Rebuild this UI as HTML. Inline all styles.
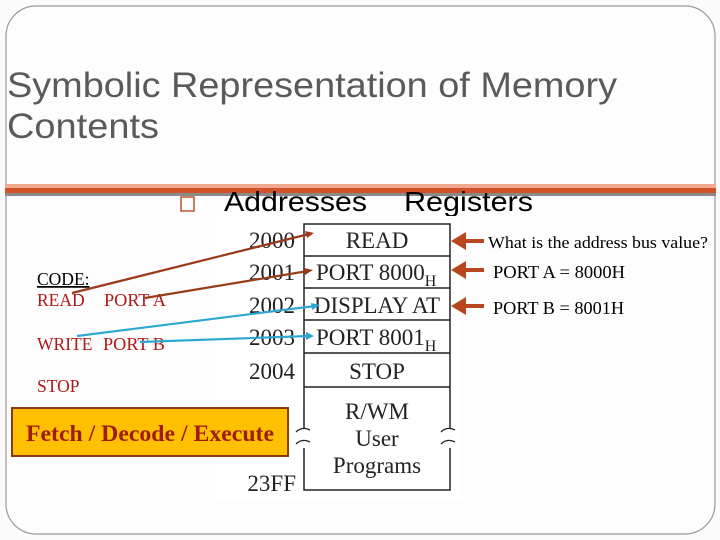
<!DOCTYPE html>
<html><head><meta charset="utf-8"><style>
html,body{margin:0;padding:0;background:#fff}
svg{display:block}
</style></head><body>
<svg width="720" height="540" xmlns="http://www.w3.org/2000/svg">
<rect width="720" height="540" fill="#fbfbfb"/>
<rect x="6" y="6" width="709" height="528" rx="30" fill="#fdfdfd" stroke="#9a9a9a" stroke-width="1.2"/>
<text x="7" y="97" font-family="Liberation Sans, sans-serif" font-size="35" fill="#5a5a5a" textLength="610" lengthAdjust="spacingAndGlyphs">Symbolic Representation of Memory</text>
<text x="7" y="138" font-family="Liberation Sans, sans-serif" font-size="35" fill="#5a5a5a" textLength="152" lengthAdjust="spacingAndGlyphs">Contents</text>
<rect x="5" y="184" width="711" height="4" fill="#f0a890"/>
<rect x="5" y="188" width="711" height="5" fill="#d2522a"/>
<rect x="5" y="193" width="711" height="3" fill="#8a8a8a"/>
<rect x="181" y="197" width="13" height="14" fill="none" stroke="#b8562a" stroke-width="1.5"/>
<text x="224" y="211" font-family="Liberation Sans, sans-serif" font-size="28" fill="#000" textLength="143" lengthAdjust="spacingAndGlyphs">Addresses</text>
<text x="404" y="211" font-family="Liberation Sans, sans-serif" font-size="28" fill="#000" textLength="129" lengthAdjust="spacingAndGlyphs">Registers</text>
<rect x="216" y="216" width="246" height="284" fill="#fff"/>
<g font-family="Liberation Serif, serif" fill="#222">
<g font-size="23" text-anchor="end">
<text x="295" y="248">2000</text><text x="295" y="280">2001</text><text x="295" y="313">2002</text><text x="295" y="345">2003</text><text x="295" y="379">2004</text><text x="296" y="491">23FF</text>
</g>
<g fill="none" stroke="#222" stroke-width="1.5">
<rect x="304" y="224" width="146" height="266"/>
<line x1="304" y1="256" x2="450" y2="256"/><line x1="304" y1="288" x2="450" y2="288"/><line x1="304" y1="320" x2="450" y2="320"/><line x1="304" y1="353" x2="450" y2="353"/><line x1="304" y1="387" x2="450" y2="387"/>
</g>
<rect x="298" y="428" width="14" height="20" fill="#fff"/><rect x="442" y="428" width="14" height="20" fill="#fff"/>
<path d="M296,432 q6,-6 14,-2 M296,444 q6,-6 14,-2 M441,432 q6,-6 14,-2 M441,444 q6,-6 14,-2" fill="none" stroke="#222" stroke-width="1.3"/>
<g font-size="23">
<text x="377" y="248" text-anchor="middle">READ</text>
<text x="316" y="280">PORT 8000<tspan font-size="16" dy="6">H</tspan></text>
<text x="377" y="313" text-anchor="middle" textLength="126" lengthAdjust="spacingAndGlyphs">DISPLAY AT</text>
<text x="316" y="345">PORT 8001<tspan font-size="16" dy="6">H</tspan></text>
<text x="377" y="379" text-anchor="middle">STOP</text>
<text x="377" y="419" text-anchor="middle">R/WM</text>
<text x="377" y="446" text-anchor="middle">User</text>
<text x="377" y="473" text-anchor="middle">Programs</text>
</g>
</g>
<g font-family="Liberation Serif, serif" font-size="17.5">
<text x="37" y="285" fill="#000" text-decoration="underline">CODE:</text>
<text x="37" y="306" fill="#b01818">READ</text><text x="104" y="306" fill="#b01818" textLength="62" lengthAdjust="spacingAndGlyphs">PORT A</text>
<text x="37" y="350" fill="#b01818">WRITE</text><text x="103" y="350" fill="#b01818" textLength="62" lengthAdjust="spacingAndGlyphs">PORT B</text>
<text x="37" y="392" fill="#b01818">STOP</text>
<text x="488" y="248" fill="#000" font-size="17" textLength="220" lengthAdjust="spacingAndGlyphs">What is the address bus value?</text>
<text x="493" y="278" fill="#000" font-size="18" textLength="132" lengthAdjust="spacingAndGlyphs">PORT A = 8000H</text>
<text x="493" y="314" fill="#000" font-size="18" textLength="131" lengthAdjust="spacingAndGlyphs">PORT B = 8001H</text>
</g>
<g stroke-width="2.2" fill="none">
<line x1="72" y1="293" x2="309" y2="234" stroke="#9a3c1c"/>
<line x1="145" y1="298" x2="308" y2="271" stroke="#9a3c1c"/>
<line x1="77" y1="336" x2="315" y2="306" stroke="#2aa8d0"/>
<line x1="140" y1="342" x2="309" y2="336" stroke="#2aa8d0"/>
</g>
<g>
<polygon points="314,233 305,231 307,238" fill="#9a3c1c"/>
<polygon points="313,270 304,268 305,275" fill="#9a3c1c"/>
<polygon points="320,305 311,303 312,310" fill="#2aa8d0"/>
<polygon points="314,336 306,332 306,340" fill="#2aa8d0"/>
</g>
<g fill="#b8461e">
<rect x="462" y="239" width="22" height="4"/><polygon points="451,241 466,232 466,250"/>
<rect x="462" y="268" width="22" height="4"/><polygon points="451,270 466,261 466,279"/>
<rect x="462" y="304" width="22" height="4"/><polygon points="451,306 466,297 466,315"/>
</g>
<rect x="12" y="408" width="276" height="48" fill="#ffc000" stroke="#8a3a10" stroke-width="2"/>
<text x="150" y="441" text-anchor="middle" font-family="Liberation Serif, serif" font-size="23" font-weight="bold" fill="#a01c10" textLength="248" lengthAdjust="spacingAndGlyphs">Fetch / Decode / Execute</text>
</svg>
</body></html>
